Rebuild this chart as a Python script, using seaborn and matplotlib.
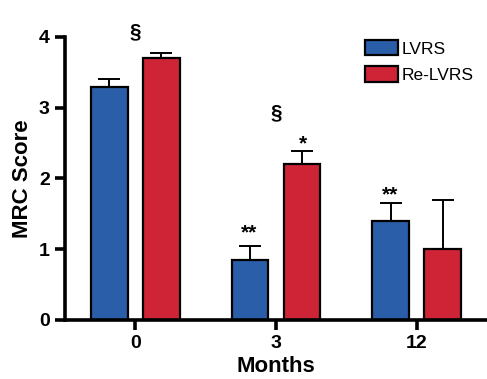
import matplotlib
matplotlib.use("Agg")
import matplotlib.pyplot as plt
import seaborn as sns
import pandas as pd
import numpy as np
from matplotlib.patches import Patch

months = ["0", "3", "12"]
groups = ["LVRS", "Re-LVRS"]
lvrs = [3.3, 0.85, 1.4]
relvrs = [3.7, 2.2, 1.0]
lvrs_err = [0.1, 0.19, 0.25]
relvrs_err = [0.08, 0.19, 0.69]
colors = ["#2a5ea9", "#cf2435"]

df = pd.DataFrame({
    "Months": months * 2,
    "MRC Score": lvrs + relvrs,
    "group": [groups[0]] * 3 + [groups[1]] * 3,
})

sns.set_style("ticks")
plt.rcParams["font.family"] = ["Liberation Sans", "DejaVu Sans"]
plt.rcParams["font.weight"] = "bold"
plt.rcParams["axes.edgecolor"] = "black"
plt.rcParams["xtick.color"] = "black"
plt.rcParams["ytick.color"] = "black"
plt.rcParams["text.color"] = "black"
plt.rcParams["axes.labelcolor"] = "black"

fig = plt.figure(figsize=(4.87, 3.79), dpi=100)
ax = fig.add_axes([0.1335, 0.1557, 0.8665, 0.7467])

sns.barplot(data=df, x="Months", y="MRC Score", hue="group", order=months,
            hue_order=groups, palette=colors, saturation=1, width=0.74, gap=0.3,
            edgecolor="black", linewidth=1.6, errorbar=None, legend=False, ax=ax)

errs = [lvrs_err, relvrs_err]
vals = [lvrs, relvrs]
for cont, v, e in zip(ax.containers, vals, errs):
    xs = [p.get_x() + p.get_width() / 2 for p in cont.patches]
    ax.errorbar(xs, v, yerr=[np.zeros(len(e)), e], fmt="none", ecolor="black",
                elinewidth=1.4, capsize=8, capthick=1.4, zorder=1)

ax.set_xlim(-0.5, 2.5)
ax.set_ylim(0, 4)
ax.set_yticks([0, 1, 2, 3, 4])
for s in ["top", "right"]:
    ax.spines[s].set_visible(False)
for s in ["left", "bottom"]:
    ax.spines[s].set_linewidth(2.6)
ax.tick_params(axis="both", width=2.6, length=7, labelsize=14, pad=4)
for lab in ax.get_xticklabels() + ax.get_yticklabels():
    lab.set_fontweight("bold")
ax.set_xlabel("Months", fontsize=16, fontweight="bold", labelpad=3)
ax.set_ylabel("MRC Score", fontsize=16, fontweight="bold", labelpad=4)

# significance marks
ann = [(0, 3.94, "§"), (1, 2.8, "§"), (1.19, 2.36, "*"), (0.81, 1.09, "**"), (1.81, 1.64, "**")]
for x, y, t in ann:
    ax.text(x, y, t, ha="center", va="bottom", fontsize=15, fontweight="bold", clip_on=False)

handles = [Patch(facecolor=c, edgecolor="black", linewidth=1.6) for c in colors]
leg = ax.legend(handles, groups, loc="upper left", bbox_to_anchor=(0.675, 1.045),
                frameon=False, fontsize=12.5, handlelength=1.9, handleheight=1.0,
                handletextpad=0.2, labelspacing=0.55)
for t in leg.get_texts():
    t.set_fontweight("normal")

fig.savefig("out.png", dpi=100)
